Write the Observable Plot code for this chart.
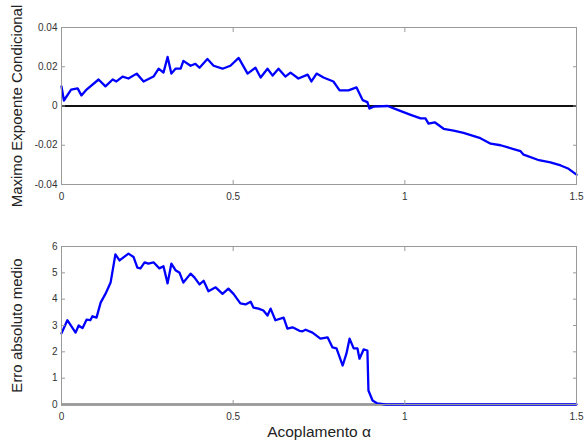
<!DOCTYPE html>
<html>
<head>
<meta charset="utf-8">
<script src="https://cdn.jsdelivr.net/npm/d3@7"></script>
<script src="https://cdn.jsdelivr.net/npm/@observablehq/plot@0.6"></script>
<style>
  html, body { margin: 0; padding: 0; background: #fff; }
  #chart svg { display: block; }
</style>
</head>
<body>
<div id="chart"></div>
<script>
// Top panel: Maximo Expoente Condicional vs acoplamento
const topX = [0,0.007,0.028,0.047,0.058,0.073,0.108,0.128,0.149,0.160,0.178,0.195,0.219,0.239,0.268,0.283,0.297,0.309,0.320,0.332,0.347,0.355,0.376,0.390,0.402,0.425,0.443,0.469,0.492,0.516,0.542,0.565,0.580,0.600,0.615,0.632,0.652,0.667,0.690,0.717,0.728,0.743,0.763,0.792,0.810,0.836,0.859,0.877,0.891,0.897,0.909,0.950,0.979,1.017,1.046,1.060,1.069,1.087,1.113,1.142,1.171,1.220,1.250,1.279,1.314,1.337,1.346,1.387,1.424,1.454,1.477,1.5];
const topY = [0.010,0.0028,0.0084,0.009,0.0054,0.0084,0.0135,0.010,0.0135,0.0125,0.015,0.014,0.0165,0.0125,0.015,0.019,0.017,0.025,0.0165,0.019,0.019,0.023,0.0205,0.0215,0.0195,0.024,0.0205,0.019,0.0205,0.0245,0.0165,0.0195,0.0145,0.019,0.0155,0.019,0.015,0.017,0.014,0.016,0.0125,0.0165,0.0145,0.0125,0.008,0.008,0.0095,0.003,0.002,-0.0013,-0.0003,0,-0.002,-0.0045,-0.0063,-0.0063,-0.009,-0.0083,-0.0116,-0.0125,-0.0137,-0.0164,-0.0192,-0.020,-0.0218,-0.023,-0.0248,-0.0274,-0.0287,-0.0303,-0.032,-0.035];

// Bottom panel: Erro absoluto medio vs acoplamento
const botX = [0,0.017,0.041,0.050,0.061,0.073,0.084,0.090,0.102,0.114,0.128,0.143,0.157,0.169,0.195,0.210,0.221,0.230,0.242,0.253,0.268,0.285,0.297,0.309,0.320,0.332,0.344,0.355,0.376,0.387,0.402,0.414,0.428,0.449,0.469,0.486,0.501,0.521,0.536,0.551,0.559,0.574,0.588,0.600,0.609,0.623,0.647,0.658,0.673,0.693,0.702,0.711,0.731,0.754,0.775,0.789,0.801,0.819,0.830,0.839,0.851,0.862,0.868,0.880,0.891,0.894,0.906,0.920,0.944,1.5];
const botY = [2.7,3.2,2.73,3.0,2.9,3.22,3.2,3.35,3.3,3.87,4.2,4.63,5.7,5.47,5.73,5.6,5.2,5.17,5.4,5.35,5.4,5.17,5.25,4.6,5.35,5.1,5.0,4.63,4.97,4.83,4.56,4.7,4.3,4.45,4.2,4.4,4.2,3.84,3.8,3.9,3.68,3.64,3.57,3.38,3.64,3.2,3.3,2.88,2.93,2.8,2.78,2.84,2.73,2.5,2.55,2.17,2.13,1.48,1.94,2.5,2.13,2.13,1.74,2.09,2.05,0.53,0.15,0.04,0,0];

const xTicks = [0, 0.5, 1, 1.5];
const topYTicks = [-0.04, -0.02, 0, 0.02, 0.04];
const botYTicks = [0, 1, 2, 3, 4, 5, 6];

const topLabel = "Maximo Expoente Condicional";
const botLabel = "Erro absoluto medio";
const xLabel = "Acoplamento \u03b1";

const topData = topX.map((x, i) => ({x, y: topY[i]}));
const botData = botX.map((x, i) => ({x, y: botY[i]}));

const fmt = d => String(d);
const blank = () => "";
const FONT = "'Liberation Sans', Arial, Helvetica, sans-serif";
const frameColor = "#9a9a9a";
const textColor = "#333";

function panel({data, yDomain, yTicks, yLabel, height, marginTop, marginBottom, showXLabel, zeroColor}) {
  const marks = [
    Plot.ruleY([0], {stroke: zeroColor, strokeWidth: 2}),
    Plot.line(data, {x: "x", y: "y", stroke: "#0000ff", strokeWidth: 2.3, strokeLinejoin: "round"}),
    Plot.frame({stroke: frameColor, strokeWidth: 1}),
    Plot.axisX({anchor: "bottom", ticks: xTicks, tickFormat: fmt, tickSize: -4, tickPadding: 12, stroke: frameColor, fill: textColor, fontSize: 10, label: null}),
    Plot.axisX({anchor: "top", ticks: xTicks, tickFormat: blank, tickSize: -4, stroke: frameColor, label: null}),
    Plot.axisY({anchor: "left", ticks: yTicks, tickFormat: fmt, tickSize: -4, tickPadding: 8, stroke: frameColor, fill: textColor, fontSize: 10, label: null}),
    Plot.axisY({anchor: "right", ticks: yTicks, tickFormat: blank, tickSize: -4, stroke: frameColor, label: null}),
    Plot.text([yLabel], {frameAnchor: "left", dx: -44, rotate: -90, text: d => d, fontSize: 15, fill: "#222", textAnchor: "middle"})
  ];
  if (showXLabel) {
    marks.push(Plot.text([xLabel], {frameAnchor: "bottom", dy: 32, text: d => d, fontSize: 15.5, fill: "#222", textAnchor: "middle"}));
  }
  return Plot.plot({
    width: 584,
    height,
    marginLeft: 61,
    marginRight: 8,
    marginTop,
    marginBottom,
    style: {fontFamily: FONT, background: "#fff", overflow: "visible"},
    x: {domain: [0, 1.5]},
    y: {domain: yDomain},
    marks
  });
}

const chart = document.getElementById("chart");
chart.appendChild(panel({data: topData, yDomain: [-0.04, 0.04], yTicks: topYTicks, yLabel: topLabel, height: 215, marginTop: 27, marginBottom: 31, showXLabel: false, zeroColor: "#111"}));
chart.appendChild(panel({data: botData, yDomain: [0, 6], yTicks: botYTicks, yLabel: botLabel, height: 226, marginTop: 31, marginBottom: 37, showXLabel: true, zeroColor: "#444"}));
</script>
</body>
</html>
